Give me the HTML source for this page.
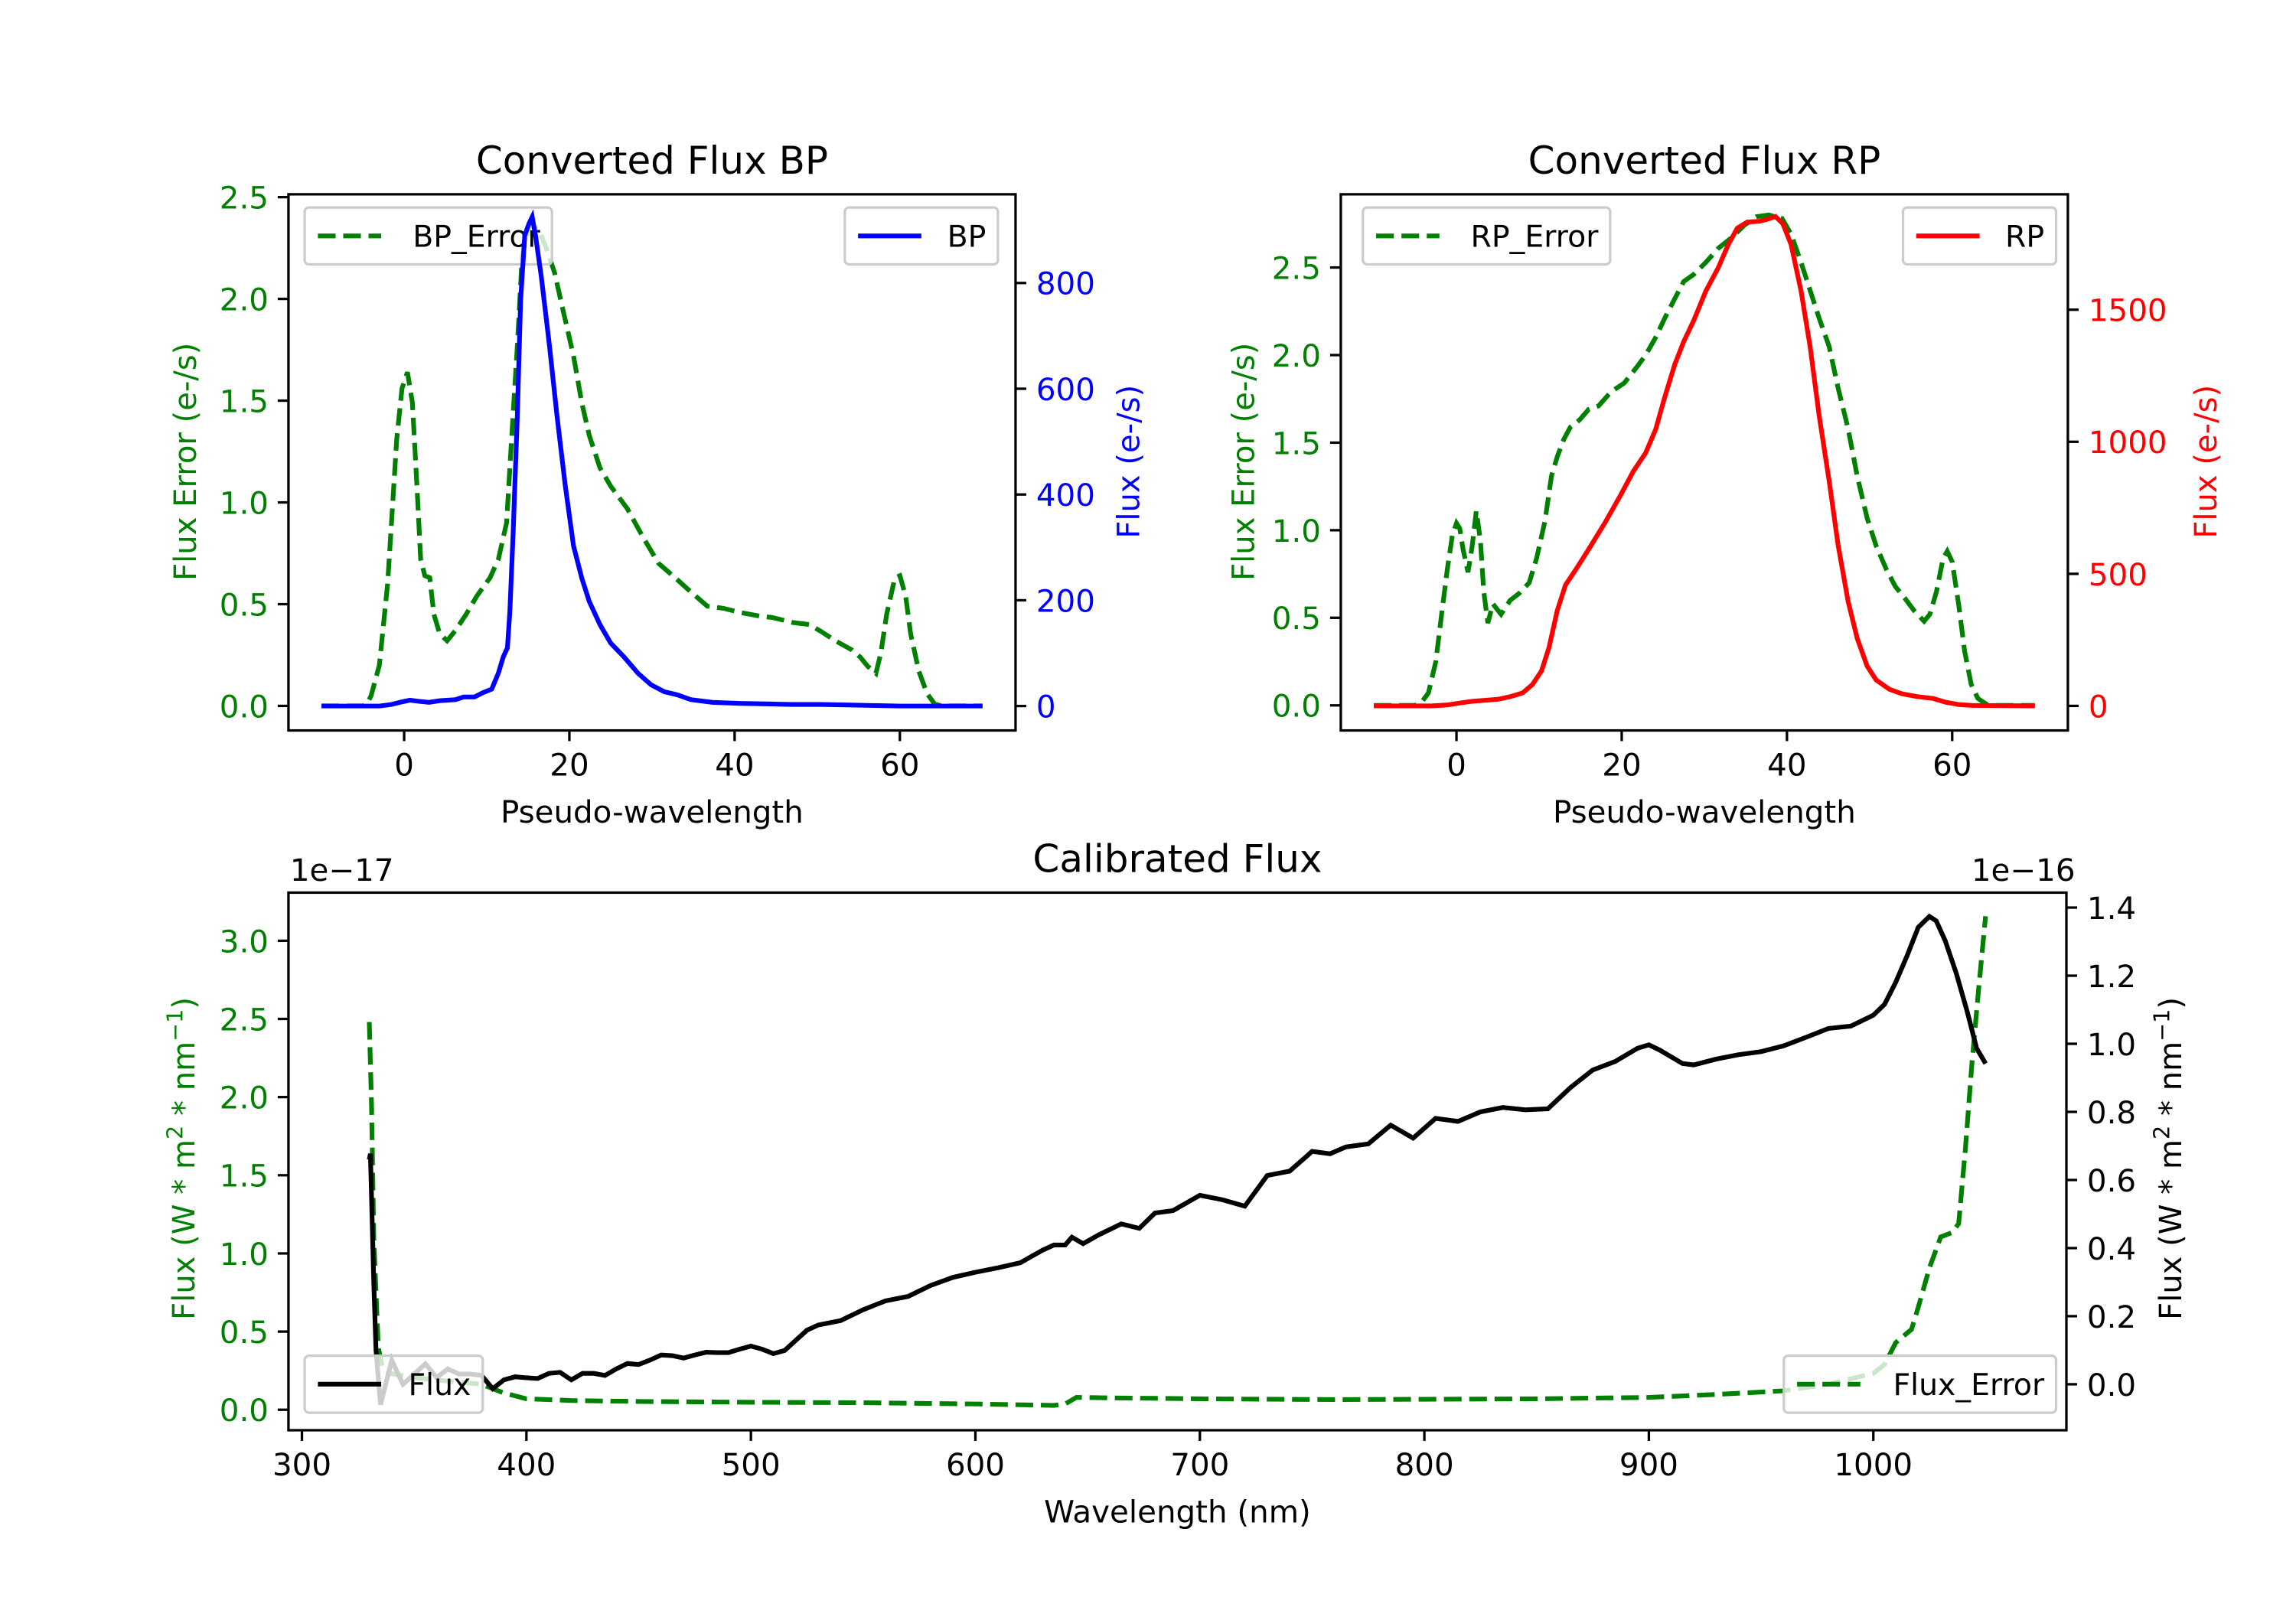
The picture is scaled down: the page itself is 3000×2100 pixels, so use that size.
<!DOCTYPE html>
<html><head><meta charset="utf-8"><title>Converted and Calibrated Flux</title>
<style>
html,body{margin:0;padding:0;background:#fff;}
svg{display:block;font-family:"DejaVu Sans","Liberation Sans",sans-serif;}
</style></head>
<body>
<svg id="fig" width="3000" height="2100" viewBox="0 0 1560 1100" preserveAspectRatio="none" xmlns="http://www.w3.org/2000/svg">
<rect width="1560" height="1100" fill="#fff"/>
</svg>
<script>
// ---------- data ----------
const bpErrX = [-10,-5,-4.5,-4,-3,-2,-1.5,-0.9,-0.26,0.4,1,1.55,2,2.5,3.1,3.6,4.3,5.2,6.2,7.5,8.8,10.4,11.4,12.4,13,13.7,14.3,15.3,16.3,17.2,18.2,19.2,20.5,21.5,22.4,23.7,25,27,28.9,30.8,32.8,34.7,36.7,38.6,40.6,43.2,44.5,47,49,50.3,52.2,54.2,55.2,56.1,57.1,57.7,58.4,59.4,60,60.7,61.3,62.3,63.3,64.2,65,70];
const bpErrY = [0,0,0.01,0.05,0.2,0.6,0.92,1.31,1.56,1.64,1.49,1.08,0.72,0.64,0.63,0.45,0.355,0.32,0.37,0.45,0.54,0.63,0.72,0.9,1.31,1.77,2.22,2.36,2.34,2.25,2.13,1.95,1.72,1.49,1.33,1.17,1.08,0.97,0.83,0.70,0.63,0.56,0.49,0.48,0.46,0.44,0.435,0.41,0.40,0.37,0.32,0.275,0.24,0.195,0.16,0.26,0.45,0.63,0.64,0.54,0.355,0.17,0.06,0.01,0,0];
const bpX = [-10,-3,-1.5,-0.5,0.7,1.7,3,4.3,6.2,7.2,8.5,9.5,10.6,11.4,12,12.5,12.8,13.2,13.7,14.1,14.6,15.1,15.5,15.9,16.6,17.6,18.5,19.5,20.5,21.5,22.4,23.7,25,26.6,28.3,29.9,31.5,33.1,34.7,37.3,40.6,43.8,47,50.3,53.5,60,70];
const bpY = [0,0,3,7,11,9,7,10,12,17,17,25,32,62,93,110,180,330,549,768,890,912,925,890,812,680,549,417,303,242,198,154,119,93,62,40,27,21,12,7,5,4,3,3,2,0,0];
const rpErrX = [-10,-5,-4.2,-3.4,-2.5,-1.8,-1.1,-0.5,0,0.4,0.8,1.4,1.9,2.4,2.9,3.3,3.8,4.4,5.4,6.5,7.6,8.8,9.7,10.7,11.5,12.2,13,13.8,14.9,16,17.2,18.7,20.3,21.8,22.9,24.1,25.2,26.4,27.5,28.7,30.2,31.7,33.3,34.8,36.3,37.8,39.4,40.5,41.7,42.8,43.9,45.1,46.2,47.4,48.5,49.7,50.8,52,53.1,54.3,55.4,56.6,57.3,58.1,58.9,59.4,60,60.8,61.5,62.3,63.1,64.2,65,70];
const rpErrY = [0,0,0.02,0.07,0.25,0.52,0.78,0.97,1.04,1.01,0.89,0.76,0.91,1.11,0.94,0.65,0.47,0.58,0.52,0.60,0.64,0.70,0.84,1.05,1.31,1.42,1.52,1.59,1.63,1.69,1.71,1.79,1.84,1.93,2.0,2.10,2.21,2.32,2.42,2.46,2.53,2.61,2.67,2.74,2.79,2.80,2.78,2.69,2.53,2.37,2.21,2.05,1.81,1.58,1.31,1.07,0.91,0.78,0.68,0.61,0.54,0.48,0.52,0.65,0.84,0.88,0.82,0.57,0.31,0.12,0.04,0.005,0,0];
const rpX = [-10,-3,-1.1,0,1.9,3.4,5,6.5,8,9.2,10.3,11.2,12.2,13.2,14.5,16.1,18,19.9,21.4,22.9,24.1,25.2,26.4,27.5,28.7,30.2,31.7,32.9,34,35.2,36.7,37.8,38.6,39.5,40.5,41.7,42.8,43.9,45.1,46.2,47.4,48.5,49.7,50.8,52.4,53.9,55.8,57.7,59.2,60.8,62.3,70];
const rpY = [0,0,3.5,9,17.5,21,25,35,49,81,133,221,361,458,519,598,695,800,888,958,1046,1168,1291,1379,1458,1572,1660,1747,1809,1832,1835,1844,1853,1826,1747,1572,1361,1098,853,607,396,256,151,98,63,46,35,28,14,5,2,0];
const calFluxX = [330,330.5,332,333,335,340,345,350,355,360,365,370,375,380,385,390,395,400,405,410,415,420,425,430,435,440,445,450,455,460,465,470,475,480,485,490,495,500,505,510,515,520,525,530,540,550,560,570,580,590,600,610,620,630,635,640,643,648,655,665,673,680,688,700,710,720,730,740,750,758,765,775,785,795,805,815,825,835,845,855,865,875,885,895,900,905,915,920,930,940,950,960,970,980,990,1000,1005,1010,1015,1020,1025,1028,1032,1037,1042,1046,1050];
const calFluxY = [0.66,0.677,0.3,0.1,-0.06,0.07,0.0,0.03,0.06,0.02,0.045,0.03,0.03,0.026,-0.013,0.013,0.022,0.019,0.017,0.032,0.035,0.013,0.032,0.032,0.026,0.045,0.061,0.058,0.071,0.086,0.084,0.077,0.086,0.094,0.093,0.093,0.103,0.112,0.103,0.090,0.099,0.129,0.159,0.174,0.187,0.219,0.245,0.258,0.290,0.314,0.329,0.342,0.357,0.394,0.409,0.409,0.432,0.413,0.439,0.471,0.458,0.503,0.510,0.555,0.542,0.523,0.613,0.626,0.684,0.677,0.697,0.706,0.761,0.723,0.781,0.772,0.800,0.813,0.806,0.809,0.871,0.923,0.948,0.987,0.997,0.981,0.942,0.938,0.955,0.968,0.977,0.994,1.019,1.045,1.052,1.084,1.116,1.181,1.258,1.342,1.374,1.361,1.303,1.206,1.090,0.987,0.942];
const calErrX = [330,331,332,334,336,340,350,360,370,380,390,400,420,450,500,550,600,635,640,645,660,700,760,800,850,900,930,960,980,1000,1005,1010,1017,1020,1025,1030,1035,1038,1041,1044,1047,1050];
const calErrY = [2.48,1.95,1.1,0.40,0.26,0.23,0.205,0.19,0.177,0.163,0.107,0.07,0.059,0.053,0.048,0.045,0.037,0.028,0.037,0.079,0.076,0.07,0.065,0.067,0.07,0.079,0.098,0.121,0.163,0.233,0.29,0.43,0.514,0.655,0.908,1.105,1.133,1.19,1.667,2.23,2.707,3.157];
const pwTicks = [0,20,40,60];
const errTicks = [0,0.5,1.0,1.5,2.0,2.5];
const bpTicks = [0,200,400,600,800];
const rpTicks = [0,500,1000,1500];
const wlTicks = [300,400,500,600,700,800,900,1000];
const calErrTicks = [0,0.5,1.0,1.5,2.0,2.5,3.0];
const calFluxTicks = [0,0.2,0.4,0.6,0.8,1.0,1.2,1.4];

// ---------- drawing ----------
const NS = 'http://www.w3.org/2000/svg';
const fig = document.getElementById('fig');
const GREEN = '#008000', BLUE = '#0000ff', RED = '#ff0000', BLACK = '#000000';

function mk(tag, attrs, parent) {
  const e = document.createElementNS(NS, tag);
  for (const k in attrs) e.setAttribute(k, attrs[k]);
  (parent || fig).appendChild(e);
  return e;
}
function txt(str, x, y, size, color, anchor, parent, rot) {
  const t = mk('text', {x: x, y: y, 'font-size': size, fill: color, 'text-anchor': anchor || 'start'}, parent);
  if (rot) t.setAttribute('transform', 'rotate(-90 ' + x + ' ' + y + ')');
  t.textContent = str;
  return t;
}
function linePath(xs, ys, sx, sy) {
  let d = '';
  for (let i = 0; i < xs.length; i++) d += (i ? 'L' : 'M') + sx(xs[i]).toFixed(2) + ' ' + sy(ys[i]).toFixed(2);
  return d;
}
function scale(d0, d1, p0, p1) { return v => p0 + (v - d0) / (d1 - d0) * (p1 - p0); }
function fmt(v, dec) { return v.toFixed(dec); }

function legend(g, x, y, w, label, color, dashed) {
  const lg = mk('g', {}, g);
  
  
  mk('rect', {x: x, y: y, width: w, height: 39, rx: 3, fill: 'rgba(255,255,255,0.8)', stroke: '#cccccc', 'stroke-width': 1.7}, lg);
  const l = mk('line', {x1: x + 9, y1: y + 19.5, x2: x + 52, y2: y + 19.5, stroke: color, 'stroke-width': 3.2}, lg);
  if (dashed) l.setAttribute('stroke-dasharray', '12 5.2');
  txt(label, x + w - 8, y + 27, 20.5, '#000', 'end', lg);
}

function panel(c) {
  const g = mk('g', {});
  
  
  const sx = scale(c.xlim[0], c.xlim[1], c.x0, c.x1);
  const syL = scale(c.ylimL[0], c.ylimL[1], c.y1, c.y0);
  const syR = scale(c.ylimR[0], c.ylimR[1], c.y1, c.y0);
  const clipId = 'clip-' + c.name;
  const cp = mk('clipPath', {id: clipId}, g);
  mk('rect', {x: c.x0, y: c.y0, width: c.x1 - c.x0, height: c.y1 - c.y0}, cp);
  const pL = mk('path', {d: linePath(c.lx, c.ly, sx, syL), fill: 'none', stroke: c.lcolor, 'stroke-width': 3.2, 'clip-path': 'url(#' + clipId + ')'}, g);
  
  
  if (c.ldash) pL.setAttribute('stroke-dasharray', '12 5.2');
  legend(g, c.legL[0], c.legL[1], c.legL[2], c.llabel, c.lcolor, c.ldash);
  const pR = mk('path', {d: linePath(c.rx, c.ry, sx, syR), fill: 'none', stroke: c.rcolor, 'stroke-width': 3.2, 'clip-path': 'url(#' + clipId + ')'}, g);
  
  
  if (c.rdash) pR.setAttribute('stroke-dasharray', '12 5.2');
  legend(g, c.legR[0], c.legR[1], c.legR[2], c.rlabel, c.rcolor, c.rdash);
  const fr = mk('rect', {x: c.x0, y: c.y0, width: c.x1 - c.x0, height: c.y1 - c.y0, fill: 'none', stroke: '#000', 'stroke-width': 1.7}, g);
  
  
  c.xticks.forEach(v => {
    const X = sx(v);
    mk('line', {x1: X, y1: c.y1, x2: X, y2: c.y1 + 7.3, stroke: '#000', 'stroke-width': 1.7}, g);
    const t = txt(String(v), X, c.y1 + 31, 21, '#000', 'middle', g);
    
    
  });
  c.lticks.forEach(v => {
    const Y = syL(v);
    mk('line', {x1: c.x0 - 7.3, y1: Y, x2: c.x0, y2: Y, stroke: '#000', 'stroke-width': 1.7}, g);
    const t = txt(fmt(v, c.ldec), c.x0 - 13.5, Y + 7.8, 21, c.lcolor, 'end', g);
    
    
  });
  c.rticks.forEach(v => {
    const Y = syR(v);
    mk('line', {x1: c.x1, y1: Y, x2: c.x1 + 7.3, y2: Y, stroke: '#000', 'stroke-width': 1.7}, g);
    const t = txt(fmt(v, c.rdec), c.x1 + 14, Y + 7.8, 21, c.rtickcolor, 'start', g);
    
    
  });
  const ti = txt(c.title, (c.x0 + c.x1) / 2, c.y0 - 14, 26, '#000', 'middle', g);
  
  
  const xl = txt(c.xlabel, (c.x0 + c.x1) / 2, c.y1 + 63, 21, '#000', 'middle', g);
  
  
  return g;
}

const g1 = panel({name: 'bp-panel', x0: 196, x1: 690, y0: 133, y1: 500, xlim: [-14, 74], ylimL: [-0.1206, 2.514], ylimR: [-46.2, 967.7],
  lx: bpErrX, ly: bpErrY, lcolor: GREEN, ldash: true, lname: 'bp-error', llabel: 'BP_Error', legL: [207, 142, 168],
  rx: bpX, ry: bpY, rcolor: BLUE, rdash: false, rname: 'bp', rlabel: 'BP', legR: [574, 142, 104],
  xticks: pwTicks, lticks: errTicks, ldec: 1, rticks: bpTicks, rdec: 0, rtickcolor: BLUE,
  title: 'Converted Flux BP', xlabel: 'Pseudo-wavelength'});
const g2 = panel({name: 'rp-panel', x0: 911, x1: 1405, y0: 133, y1: 500, xlim: [-14, 74], ylimL: [-0.1433, 2.918], ylimR: [-93, 1937],
  lx: rpErrX, ly: rpErrY, lcolor: GREEN, ldash: true, lname: 'rp-error', llabel: 'RP_Error', legL: [926, 142, 168],
  rx: rpX, ry: rpY, rcolor: RED, rdash: false, rname: 'rp', rlabel: 'RP', legR: [1293, 142, 104],
  xticks: pwTicks, lticks: errTicks, ldec: 1, rticks: rpTicks, rdec: 0, rtickcolor: RED,
  title: 'Converted Flux RP', xlabel: 'Pseudo-wavelength'});
const g3 = panel({name: 'calibrated-panel', x0: 196, x1: 1404, y0: 611, y1: 979, xlim: [294, 1086], ylimL: [-0.131, 3.308], ylimR: [-0.135, 1.444],
  lx: calErrX, ly: calErrY, lcolor: GREEN, ldash: true, lname: 'flux-error', llabel: 'Flux_Error', legL: [1212, 928, 185],
  rx: calFluxX, ry: calFluxY, rcolor: BLACK, rdash: false, rname: 'flux', rlabel: 'Flux', legR: [207, 928, 121],
  xticks: wlTicks, lticks: calErrTicks, ldec: 1, rticks: calFluxTicks, rdec: 1, rtickcolor: BLACK,
  title: 'Calibrated Flux', xlabel: 'Wavelength (nm)'});

let t;
t = txt('Flux Error (e-/s)', 133, 316, 21, GREEN, 'middle', g1, true);


t = txt('Flux (e-/s)', 774, 316, 21, BLUE, 'middle', g1, true);


t = txt('Flux Error (e-/s)', 852, 316, 21, GREEN, 'middle', g2, true);


t = txt('Flux (e-/s)', 1506, 316, 21, RED, 'middle', g2, true);



function unitLabel(x, y, color, name) {
  const e = mk('text', {x: x, y: y, 'font-size': 21, fill: color, 'text-anchor': 'middle', transform: 'rotate(-90 ' + x + ' ' + y + ')'}, g3);
  
  
  const parts = [['Flux (W * m', 0], ['2', 1], [' * nm', 0], ['\u22121', 1], [')', 0]];
  parts.forEach(p => {
    const s = mk('tspan', {}, e);
    if (p[1]) { s.setAttribute('font-size', 15); s.setAttribute('dy', -8); }
    else if (e.childNodes.length > 1) { s.setAttribute('dy', 8); }
    s.textContent = p[0];
  });
}
unitLabel(132, 793, GREEN, 'calibrated-left-y-axis-title');
unitLabel(1482, 793, BLACK, 'calibrated-right-y-axis-title');
t = txt('1e\u221217', 197, 603, 21, '#000', 'start', g3);


t = txt('1e\u221216', 1410, 603, 21, '#000', 'end', g3);


</script>
</body></html>
